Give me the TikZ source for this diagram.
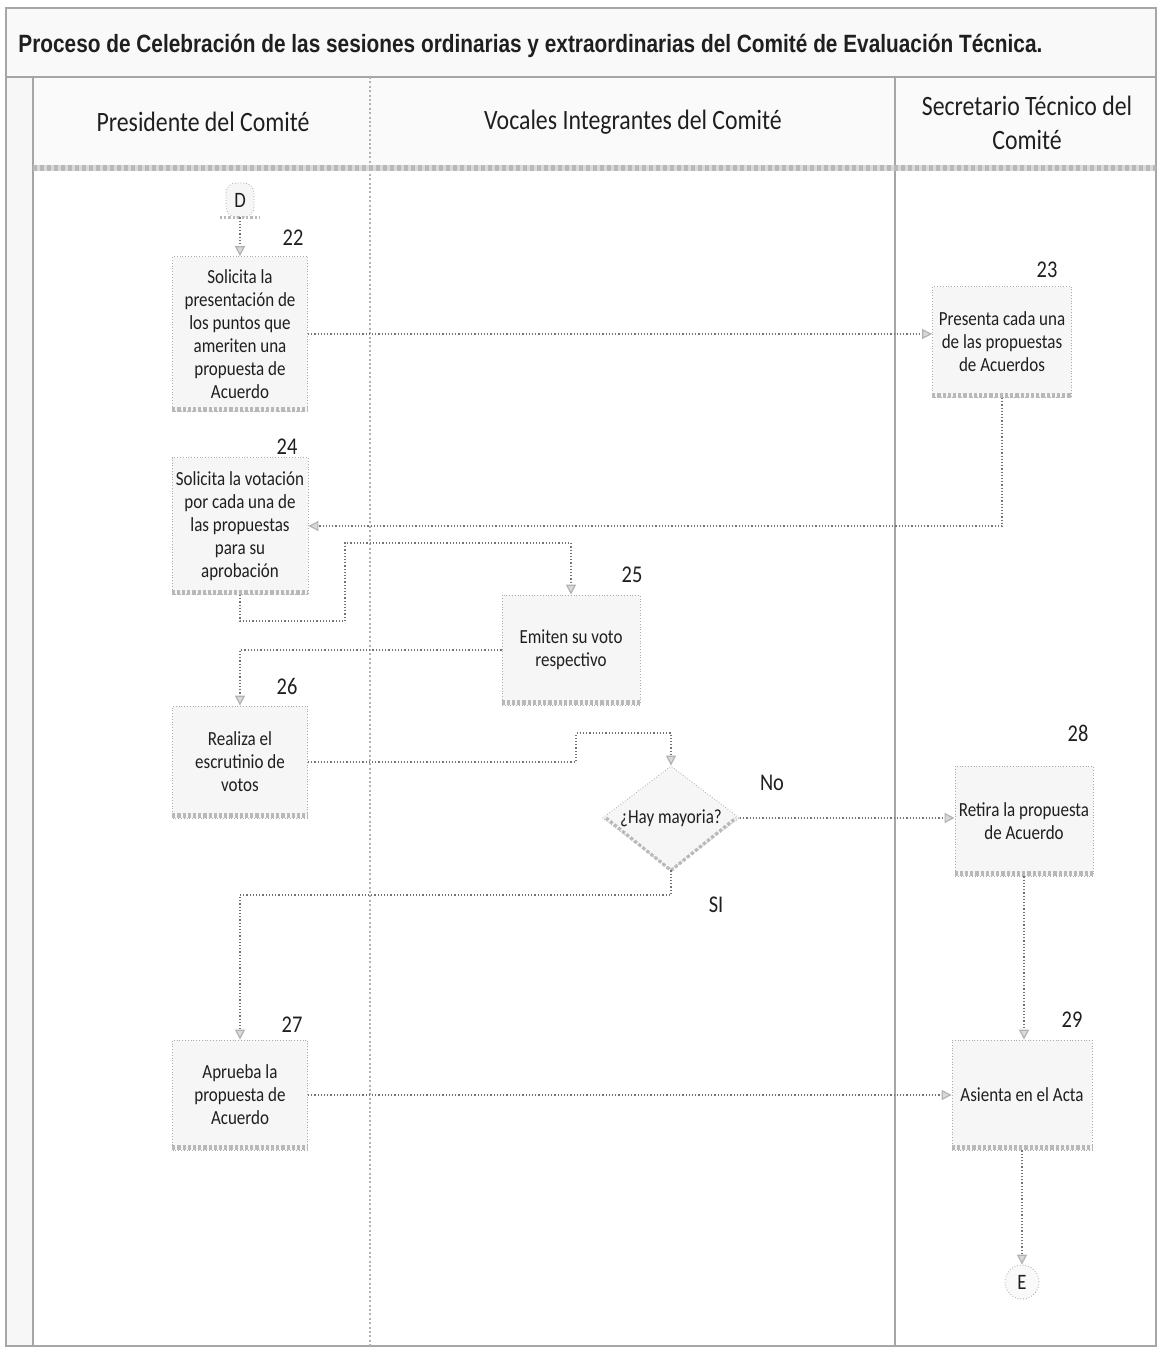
\documentclass[tikz,border=0pt]{standalone}
\usepackage{graphicx}
\usepackage{fontspec}
\setmainfont{Carlito}
\newfontfamily\boxfont{Carlito}[FakeStretch=0.85]
\newfontfamily\titlefont{Liberation Sans}
\usetikzlibrary{arrows.meta,shapes.geometric}
\definecolor{ink}{gray}{0.12}
\definecolor{linec}{gray}{0.45}
\begin{document}
\begin{tikzpicture}[x=0.5pt,y=-0.5pt,
  box/.style={draw=gray!65, densely dotted, fill=gray!7, minimum width=67.5pt,
    minimum height=#1, inner sep=2pt, align=center, text=ink,
    font=\boxfont\fontsize{10}{11.5}\selectfont},
  num/.style={text=ink, font=\boxfont\fontsize{12}{14}\selectfont},
  hdr/.style={text=ink, align=center, font=\boxfont\fontsize{14}{17}\selectfont},
  conn/.style={draw=linec, densely dotted, line width=0.6pt,
    -{Triangle[length=5pt,width=5pt,fill=gray!30,color=gray!60]}},
  frameline/.style={draw=gray!70, line width=0.6pt},
  lanediv/.style={draw=gray!60, line width=0.9pt, dash pattern=on 1pt off 1.2pt},
  shade/.style={draw=gray!55, line width=2.5pt, dash pattern=on 1.6pt off 1pt}
]
\useasboundingbox (0,0) rectangle (1161,1349);
% backgrounds
\fill[gray!5] (6,8) rectangle (1156,77);
\fill[gray!6] (6,77) rectangle (33,1346);
\fill[gray!4] (33,77) rectangle (1156,165);
% frame and lanes
\draw[frameline] (6,8) rectangle (1156,1346);
\draw[frameline] (6,77) -- (1156,77);
\draw[frameline] (33,77) -- (33,1346);
\draw[lanediv] (370,77) -- (370,1346);
\draw[frameline, line width=0.9pt] (895,77) -- (895,1346);
\fill[gray!30] (33,165) rectangle (1156,171);
\draw[gray!55, line width=2.6pt, dash pattern=on 2pt off 1.5pt] (33,168) -- (1156,168);
% title and headers
\node[anchor=west, text=ink, inner sep=0pt] (title) at (18,46)
  {\resizebox{512pt}{\height}{\titlefont\bfseries\fontsize{12.5}{14}\selectfont Proceso de Celebración de las sesiones ordinarias y extraordinarias del Comité de Evaluación Técnica.}};
\node[hdr] (h1) at (203,122) {Presidente del Comité};
\node[hdr] (h2) at (633,122) {Vocales Integrantes del Comité};
\node[hdr] (h3) at (1027,123) {Secretario Técnico del\\Comité};
% nodes
\node[draw=gray!70, densely dotted, fill=gray!7, rounded corners=5pt, minimum width=14pt, minimum height=17pt, inner sep=1pt, text=ink, font=\boxfont\fontsize{11}{13}\selectfont] (D) at (240,200) {D};
\node[box=77.5pt] (n22) at (240,334) {Solicita la\\presentación de\\los puntos que\\ameriten una\\propuesta de\\Acuerdo};
\node[box=55.5pt, minimum width=69.5pt] (n23) at (1002,342) {Presenta cada una\\de las propuestas\\de Acuerdos};
\node[box=68.5pt] (n24) at (240,526) {Solicita la votación\\por cada una de\\las propuestas\\para su\\aprobación};
\node[box=55pt, minimum width=69pt] (n25) at (571,650) {Emiten su voto\\respectivo};
\node[box=56pt] (n26) at (240,762) {Realiza el\\escrutinio de\\votos};
\node[diamond, draw=gray!65, densely dotted, fill=gray!7, minimum width=68.5pt, minimum height=52pt, inner sep=0pt, aspect=1.3, text=ink, font=\boxfont\fontsize{10}{11.5}\selectfont] (dec) at (671,818) {¿Hay mayoria?};
\node[box=55pt, minimum width=69pt] (n28) at (1024,821) {Retira la propuesta\\de Acuerdo};
\node[box=55pt] (n27) at (240,1095) {Aprueba la\\propuesta de\\Acuerdo};
\node[box=55pt, minimum width=70pt] (n29) at (1022,1095) {Asienta en el Acta};
\node[circle, draw=gray!70, densely dotted, fill=gray!5, minimum size=17pt, inner sep=0pt, text=ink, font=\boxfont\fontsize{11}{13}\selectfont] (E) at (1022,1282) {E};
% bottom shading of boxes
\foreach \n in {n22,n23,n24,n25,n26,n28,n27,n29}{
  \draw[shade] ([yshift=1.3pt]\n.south west) -- ([yshift=1.3pt]\n.south east);
}
\draw[draw=gray!55, line width=1.6pt, dash pattern=on 1.6pt off 1pt] ([xshift=2pt]dec.west) -- (dec.south) -- ([xshift=-2pt]dec.east);
\draw[draw=gray!55, line width=1.4pt, dash pattern=on 1.2pt off 1pt] ([xshift=-3pt]D.south west) -- ([xshift=3pt]D.south east);
% step numbers
\node[num] (l22) at (293,238) {22};
\node[num] (l23) at (1047,270) {23};
\node[num] (l24) at (287,447) {24};
\node[num] (l25) at (632,575) {25};
\node[num] (l26) at (287,686) {26};
\node[num] (l28) at (1078,733) {28};
\node[num] (l27) at (292,1025) {27};
\node[num] (l29) at (1072,1020) {29};
\node[num] (lno) at (772,783) {No};
\node[num] (lsi) at (716,905) {SI};
% connector bend points
\coordinate (a1) at (345,621);
\coordinate (a2) at (345,543);
\coordinate (b1) at (576,762);
\coordinate (b2) at (576,733);
\coordinate (c1) at (671,895);
% connectors
\draw[conn] (D) -- (n22);
\draw[conn] (n22.east) -- (n22.east -| n23.west);
\draw[conn] (n23.south) |- (n24.east);
\draw[conn] (n24.south) |- (a1) -- (a2) -| (n25.north);
\draw[conn] (n25.west) -| (n26.north);
\draw[conn] (n26.east) -- (b1) -- (b2) -| (dec.north);
\draw[conn] (dec.east) -- (dec.east -| n28.west);
\draw[conn] (dec.south) -- (c1) -| (n27.north);
\draw[conn] (n27.east) -- (n29.west);
\draw[conn] (n28.south) -- (n28.south |- n29.north);
\draw[conn] (n29.south) -- (E.north);
\end{tikzpicture}
\end{document}
